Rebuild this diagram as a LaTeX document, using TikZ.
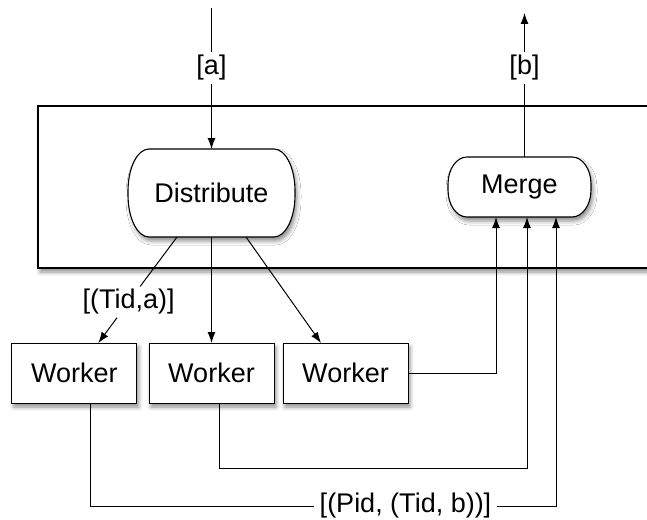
\documentclass[tikz,border=0pt]{standalone}
\usepackage{fontspec}
\setmainfont{Liberation Sans}
\usetikzlibrary{calc,positioning,backgrounds,shadows.blur,arrows.meta}
%%khung bo tron hai ben (kieu, nut, ban kinh x, ban kinh y)
\newcommand\capsule[4]{%
	\path[#1] ($(#2.north west)+(#3,0pt)$) -- ($(#2.north east)+(-#3,0pt)$)
	arc[start angle=90,end angle=0,x radius=#3,y radius=#4]
	-- ($(#2.south east)+(0pt,#4)$)
	arc[start angle=0,end angle=-90,x radius=#3,y radius=#4]
	-- ($(#2.south west)+(#3,0pt)$)
	arc[start angle=270,end angle=180,x radius=#3,y radius=#4]
	-- ($(#2.north west)+(0pt,-#4)$)
	arc[start angle=180,end angle=90,x radius=#3,y radius=#4] -- cycle;}
\begin{document}
\begin{tikzpicture}[x=1pt,y=-1pt,line width=1pt,font=\fontsize{27}{32}\selectfont,
	>={Latex[length=11pt,width=8pt]},
	bong/.style={blur shadow={shadow xshift=2pt,shadow yshift=-4pt,shadow blur radius=4pt,shadow opacity=45}},
	vien/.style={draw,fill=white,bong},
	worker/.style={vien,minimum width=125pt,minimum height=60pt,inner sep=0pt,outer sep=0pt},
	hop/.style={inner sep=0pt,outer sep=0pt},
	lbl/.style={inner sep=3pt,outer sep=0pt}]
	\useasboundingbox (0,0) rectangle (647,519);
	%%%Cac nut chinh
	\node[hop,minimum width=167pt,minimum height=88pt] (D) at (211.5,193) {Distribute};
	\node[hop,minimum width=143pt,minimum height=60pt] (M) at (519.5,187) {Merge};
	\foreach [count=\i from 1] \x in {74.3,211.5,345.5}{%
		\node[worker] (W-\i) at (\x,373) {Worker};
	}
	%%%Khung ngoai va nen khung bo tron
	\begin{scope}[on background layer]
		\path[vien,line width=1.2pt] (38,106) rectangle (700,268);
		\capsule{fill=white,bong}{D}{21pt}{42pt}
		\capsule{fill=white,bong}{M}{19pt}{27pt}
	\end{scope}
	%%%Vien khung bo tron
	\capsule{draw=black,line width=1.1pt}{D}{21pt}{42pt}
	\capsule{draw=black,line width=1.1pt}{M}{19pt}{27pt}
	%%%Dau vao, dau ra
	\coordinate (vao) at (211.5,8);
	\coordinate (ra) at (524.5,13);
	\node[lbl] (la) at (211.5,68) {[a]};
	\node[lbl] (lb) at (524.5,68) {[b]};
	\draw (vao) -- (la);
	\draw[->] (la) -- (D);
	\draw (M.north -| lb) -- (lb);
	\draw[->] (lb) -- (ra);
	%%%Distribute toi cac Worker
	\path ($(D.south)+(-34.5,0)$) coordinate (D-1)
		($(D.south)+(34.5,0)$) coordinate (D-3)
		($(W-1.north)+(24,0)$) coordinate (T-1)
		($(W-3.north)+(-24.5,0)$) coordinate (T-3);
	\node[lbl] (lt) at (128.6,302) {[(Tid,a)]};
	\draw (D-1) -- (lt);
	\draw[->] (lt) -- (T-1);
	\draw[->] (D.south) -- (W-2.north);
	\draw[->] (D-3) -- (T-3);
	%%%Cac Worker ve Merge
	\path ($(M.south)+(-23.5,0)$) coordinate (M-1)
		($(M.south)+(7.5,0)$) coordinate (M-2)
		($(M.south)+(36.5,0)$) coordinate (M-3)
		($(W-1.south)+(16.5,0)$) coordinate (B-1)
		($(W-2.south)+(8,0)$) coordinate (B-2);
	\coordinate (g2) at (527,468);
	\node[lbl,inner xsep=6pt] (lp) at (405.5,506) {[(Pid, (Tid, b))]};
	\draw[->] (W-3.east) -| (M-1);
	\draw[->] (B-2) |- (g2) -- (M-2);
	\draw (B-1) |- (lp);
	\draw[->] (lp) -| (M-3);
\end{tikzpicture}
\end{document}
